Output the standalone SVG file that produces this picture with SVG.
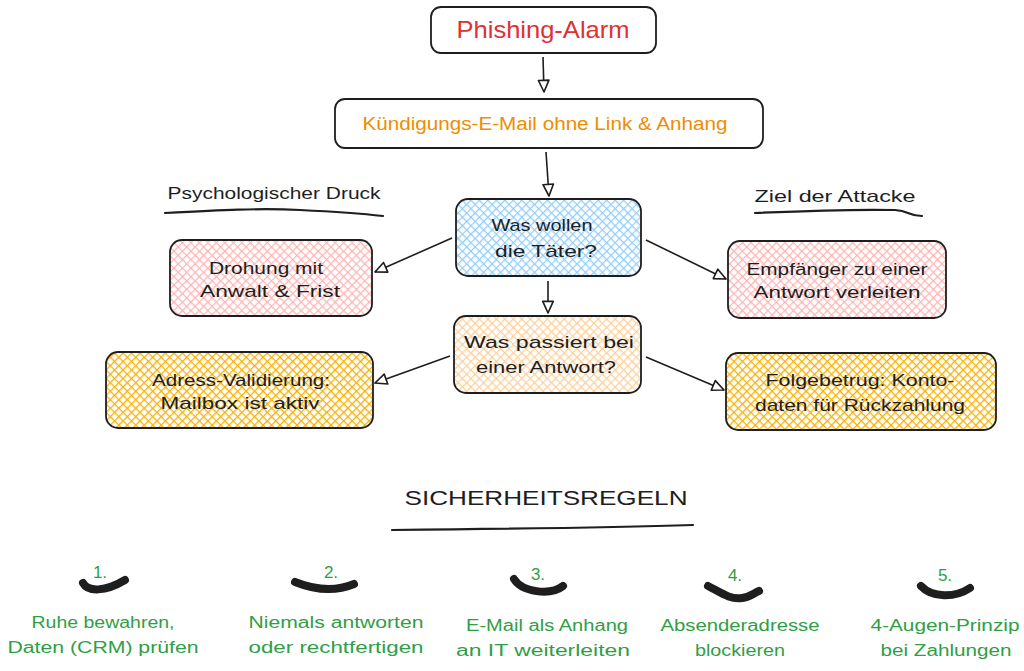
<svg xmlns="http://www.w3.org/2000/svg" width="1024" height="671" viewBox="0 0 1024 671">
<defs>
<style>
.box{stroke:#1e1e1e;stroke-width:1.8;}
.t{font-family:"Liberation Sans","DejaVu Sans",sans-serif;fill:#1e1e1e;text-anchor:middle;}
.g{fill:#2f9e44;}
.conn{stroke:#1e1e1e;stroke-width:1.6;fill:none;marker-end:url(#arr);}
.ul{stroke:#1e1e1e;stroke-width:2.2;fill:none;stroke-linecap:round;}
.sw{stroke:#1e1e1e;stroke-width:8;fill:none;stroke-linecap:round;stroke-linejoin:round;}
</style>
<marker id="arr" viewBox="0 0 12 12" refX="11" refY="6" markerWidth="14" markerHeight="14" markerUnits="userSpaceOnUse" orient="auto">
<path d="M1,1.5 L11,6 L1,10.5 Z" fill="#ffffff" stroke="#1e1e1e" stroke-width="1.4" stroke-linejoin="round"/>
</marker>
<pattern id="hPink" patternUnits="userSpaceOnUse" width="6" height="6" patternTransform="rotate(45)">
<rect width="6" height="6" fill="#fff"/><path d="M0,0 V6 M0,0 H6" stroke="#ffb3b3" stroke-width="2.4"/>
</pattern>
<pattern id="hBlue" patternUnits="userSpaceOnUse" width="6" height="6" patternTransform="rotate(45)">
<rect width="6" height="6" fill="#fff"/><path d="M0,0 V6 M0,0 H6" stroke="#90cdfc" stroke-width="2.4"/>
</pattern>
<pattern id="hOrange" patternUnits="userSpaceOnUse" width="6" height="6" patternTransform="rotate(45)">
<rect width="6" height="6" fill="#fff"/><path d="M0,0 V6 M0,0 H6" stroke="#ffcf99" stroke-width="2.4"/>
</pattern>
<pattern id="hYellow" patternUnits="userSpaceOnUse" width="6" height="6" patternTransform="rotate(45)">
<rect width="6" height="6" fill="#fff"/><path d="M0,0 V6 M0,0 H6" stroke="#fab005" stroke-width="2.6"/>
</pattern>
</defs>
<rect width="1024" height="671" fill="#ffffff"/>

<g id="connectors">
<path class="conn" d="M543,57 L544,92"/>
<path class="conn" d="M546,152 L549,196"/>
<path class="conn" d="M548,281 L548,313"/>
<path class="conn" d="M452,238 L375,272"/>
<path class="conn" d="M646,240 L726,279"/>
<path class="conn" d="M450,356 L375,383"/>
<path class="conn" d="M646,357 L724,390"/>
</g>

<g id="title">
<rect class="box" x="431" y="7" width="225" height="46" rx="10" fill="#fff"/>
<text class="t" x="543" y="38" font-size="24" style="fill:#e03131" textLength="173" lengthAdjust="spacingAndGlyphs">Phishing-Alarm</text>
</g>

<g id="email">
<rect class="box" x="335" y="99" width="428" height="49" rx="10" fill="#fff"/>
<text class="t" x="545" y="130" font-size="18" style="fill:#f08c00" textLength="365" lengthAdjust="spacingAndGlyphs">Kündigungs-E-Mail ohne Link &amp; Anhang</text>
</g>

<g id="label-psych">
<text class="t" x="274" y="199" font-size="17" textLength="213" lengthAdjust="spacingAndGlyphs">Psychologischer Druck</text>
<path class="ul" d="M165,213 C220,210 260,208 300,210 C340,212 365,214 383,216"/>
</g>

<g id="label-ziel">
<text class="t" x="835" y="202" font-size="17" textLength="161" lengthAdjust="spacingAndGlyphs">Ziel der Attacke</text>
<path class="ul" d="M755,213 C800,211 850,209 895,210 C910,211 908,216 922,216"/>
</g>

<g id="wollen">
<rect class="box" x="456" y="199" width="185" height="77" rx="12" fill="url(#hBlue)"/>
<text class="t" x="542" y="231" font-size="17" textLength="101" lengthAdjust="spacingAndGlyphs">Was wollen</text>
<text class="t" x="546" y="257" font-size="17" textLength="102" lengthAdjust="spacingAndGlyphs">die Täter?</text>
</g>

<g id="passiert">
<rect class="box" x="454" y="316" width="187" height="77" rx="12" fill="url(#hOrange)"/>
<text class="t" x="549" y="348" font-size="17" textLength="170" lengthAdjust="spacingAndGlyphs">Was passiert bei</text>
<text class="t" x="546" y="373" font-size="17" textLength="140" lengthAdjust="spacingAndGlyphs">einer Antwort?</text>
</g>

<g id="drohung">
<rect class="box" x="170" y="240" width="202" height="76" rx="12" fill="url(#hPink)"/>
<text class="t" x="266" y="274" font-size="17" textLength="114" lengthAdjust="spacingAndGlyphs">Drohung mit</text>
<text class="t" x="270" y="297" font-size="17" textLength="140" lengthAdjust="spacingAndGlyphs">Anwalt &amp; Frist</text>
</g>

<g id="empfaenger">
<rect class="box" x="728" y="241" width="218" height="77" rx="12" fill="url(#hPink)"/>
<text class="t" x="837" y="275" font-size="17" textLength="181" lengthAdjust="spacingAndGlyphs">Empfänger zu einer</text>
<text class="t" x="837" y="298" font-size="17" textLength="167" lengthAdjust="spacingAndGlyphs">Antwort verleiten</text>
</g>

<g id="adress">
<rect class="box" x="106" y="352" width="267" height="76" rx="12" fill="url(#hYellow)"/>
<text class="t" x="241" y="386" font-size="17" textLength="178" lengthAdjust="spacingAndGlyphs">Adress-Validierung:</text>
<text class="t" x="240" y="409" font-size="17" textLength="159" lengthAdjust="spacingAndGlyphs">Mailbox ist aktiv</text>
</g>

<g id="folge">
<rect class="box" x="726" y="353" width="270" height="77" rx="12" fill="url(#hYellow)"/>
<text class="t" x="860" y="386" font-size="17" textLength="189" lengthAdjust="spacingAndGlyphs">Folgebetrug: Konto-</text>
<text class="t" x="860" y="411" font-size="17" textLength="210" lengthAdjust="spacingAndGlyphs">daten für Rückzahlung</text>
</g>

<g id="regeln">
<text class="t" x="546" y="505" font-size="21" textLength="283" lengthAdjust="spacingAndGlyphs">SICHERHEITSREGELN</text>
<path class="ul" d="M392,530 C500,529 600,528 693,525"/>
</g>

<g id="rule1">
<text class="t g" x="100" y="578" font-size="17">1.</text>
<path class="sw" d="M83,583 C88,592 105,592 125,580"/>
<text class="t g" x="103" y="628" font-size="16" textLength="143" lengthAdjust="spacingAndGlyphs">Ruhe bewahren,</text>
<text class="t g" x="103" y="653" font-size="16" textLength="191" lengthAdjust="spacingAndGlyphs">Daten (CRM) prüfen</text>
</g>

<g id="rule2">
<text class="t g" x="331" y="578" font-size="17">2.</text>
<path class="sw" d="M295,582 C315,590 335,592 354,584"/>
<text class="t g" x="336" y="628" font-size="16" textLength="175" lengthAdjust="spacingAndGlyphs">Niemals antworten</text>
<text class="t g" x="336" y="653" font-size="16" textLength="175" lengthAdjust="spacingAndGlyphs">oder rechtfertigen</text>
</g>

<g id="rule3">
<text class="t g" x="538" y="580" font-size="17">3.</text>
<path class="sw" d="M514,579 C522,592 550,596 563,586"/>
<text class="t g" x="547" y="631" font-size="16" textLength="162" lengthAdjust="spacingAndGlyphs">E-Mail als Anhang</text>
<text class="t g" x="543" y="656" font-size="16" textLength="174" lengthAdjust="spacingAndGlyphs">an IT weiterleiten</text>
</g>

<g id="rule4">
<text class="t g" x="735" y="581" font-size="17">4.</text>
<path class="sw" d="M708,586 C720,592 730,600 742,598 C750,597 754,593 759,591"/>
<text class="t g" x="740" y="631" font-size="16" textLength="159" lengthAdjust="spacingAndGlyphs">Absenderadresse</text>
<text class="t g" x="740" y="656" font-size="16" textLength="90" lengthAdjust="spacingAndGlyphs">blockieren</text>
</g>

<g id="rule5">
<text class="t g" x="945" y="581" font-size="17">5.</text>
<path class="sw" d="M921,586 C932,598 955,598 970,588"/>
<text class="t g" x="945" y="631" font-size="16" textLength="149" lengthAdjust="spacingAndGlyphs">4-Augen-Prinzip</text>
<text class="t g" x="946" y="656" font-size="16" textLength="131" lengthAdjust="spacingAndGlyphs">bei Zahlungen</text>
</g>
</svg>
